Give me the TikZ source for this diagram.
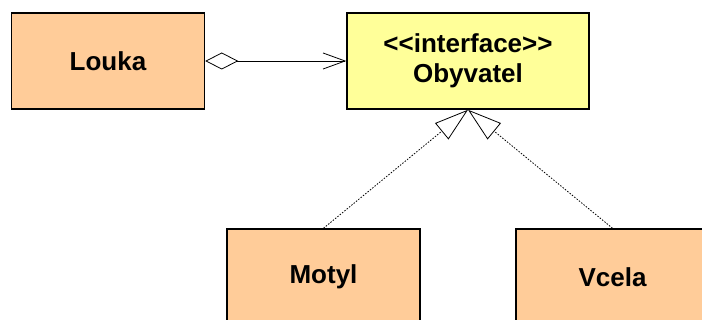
\documentclass[tikz,border=0pt]{standalone}
\usepackage{fontspec}
\setmainfont{Liberation Sans}
\usetikzlibrary{arrows.meta}

\definecolor{peach}{HTML}{FFCC99}
\definecolor{lemon}{HTML}{FFFF99}

\tikzset{
  klass/.style={draw,line width=1.5pt,minimum height=96pt,inner sep=0pt,
    align=center,font=\bfseries\fontsize{26}{30}\selectfont},
  trida/.style={klass,fill=peach,minimum width=193pt},
  rozhrani/.style={klass,fill=lemon,minimum width=242pt},
  agregace/.style={line width=0.8pt,
    {Diamond[open,length=33pt,width=17pt,fill=white]}-{Straight Barb[length=22pt,width=16pt]}},
  realizace/.style={line width=0.8pt,dash pattern=on 1.5pt off 1.5pt,
    -{Triangle[open,length=34pt,width=21pt,fill=white]}},
}

\begin{document}
\begin{tikzpicture}[x=1pt,y=-1pt]
\useasboundingbox (0,0) rectangle (702,320);
\clip (0,0) rectangle (702,320);
% classes
\node[trida] (louka) at (108,61) {Louka};
\node[rozhrani] (obyvatel) at (468,61) {<\kern0pt<interface>\kern0pt>\\Obyvatel};
\node[trida] (motyl) at (323.5,277) {Motyl};
\node[trida] (vcela) at (612.5,277) {Vcela};
% relations
\draw[agregace] (louka.east) -- (obyvatel.west);
\draw[realizace] (motyl.north) -- (obyvatel.south);
\draw[realizace] (vcela.north) -- (obyvatel.south);
\end{tikzpicture}
\end{document}
